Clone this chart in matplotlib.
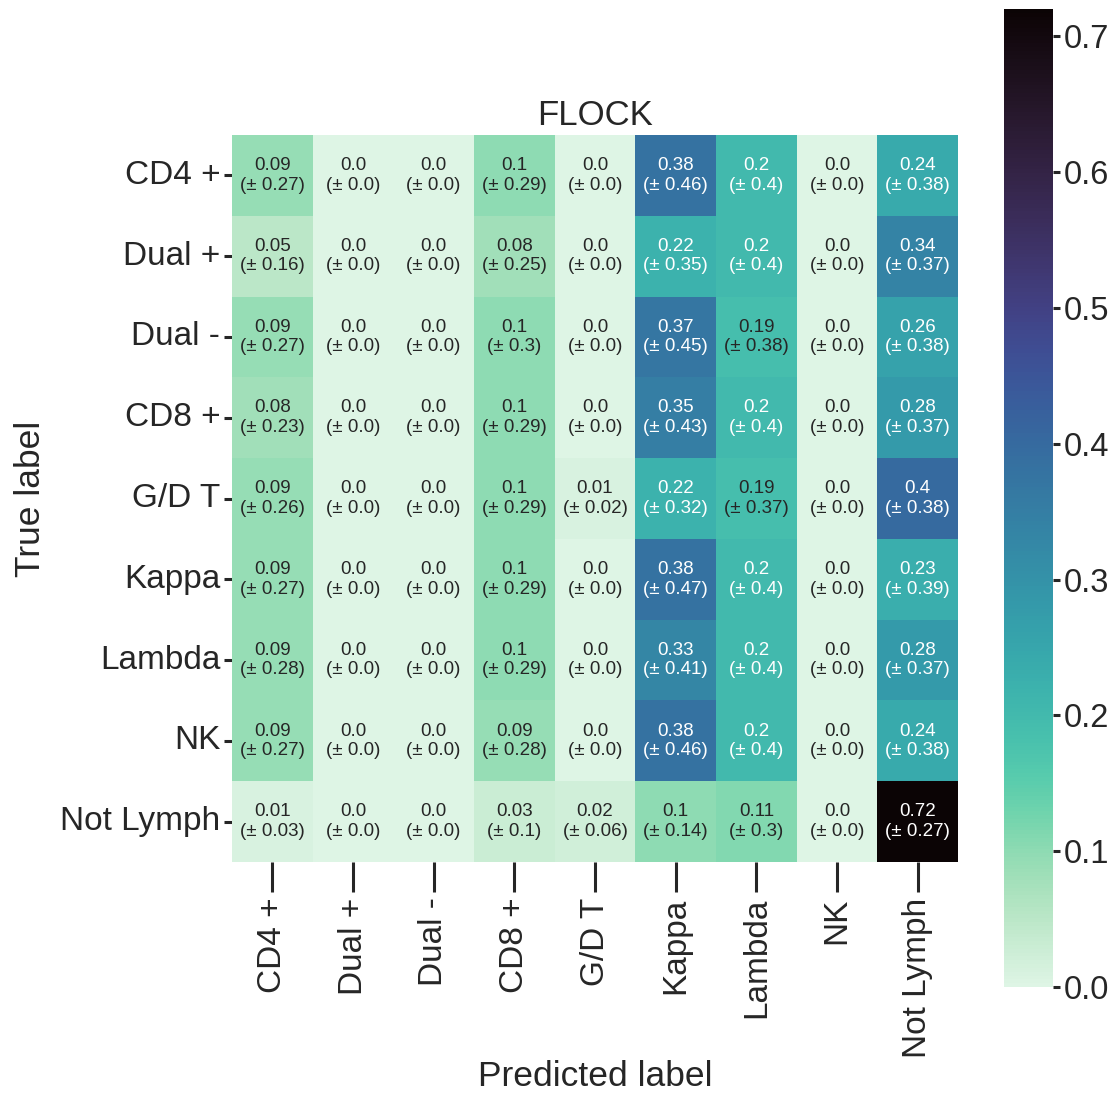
import numpy as np
import matplotlib
matplotlib.use('Agg')
import matplotlib.pyplot as plt
import seaborn as sns

# class names (rows = true label, columns = predicted label)
labels = ['CD4 +', 'Dual +', 'Dual -', 'CD8 +', 'G/D T', 'Kappa', 'Lambda', 'NK', 'Not Lymph']

# mean fraction per cell
mean_vals = [
    [0.09, 0.0, 0.0, 0.1, 0.0, 0.38, 0.2, 0.0, 0.24],
    [0.05, 0.0, 0.0, 0.08, 0.0, 0.22, 0.2, 0.0, 0.34],
    [0.09, 0.0, 0.0, 0.1, 0.0, 0.37, 0.19, 0.0, 0.26],
    [0.08, 0.0, 0.0, 0.1, 0.0, 0.35, 0.2, 0.0, 0.28],
    [0.09, 0.0, 0.0, 0.1, 0.01, 0.22, 0.19, 0.0, 0.4],
    [0.09, 0.0, 0.0, 0.1, 0.0, 0.38, 0.2, 0.0, 0.23],
    [0.09, 0.0, 0.0, 0.1, 0.0, 0.33, 0.2, 0.0, 0.28],
    [0.09, 0.0, 0.0, 0.09, 0.0, 0.38, 0.2, 0.0, 0.24],
    [0.01, 0.0, 0.0, 0.03, 0.02, 0.1, 0.11, 0.0, 0.72],
]

# standard deviation per cell
std_vals = [
    [0.27, 0.0, 0.0, 0.29, 0.0, 0.46, 0.4, 0.0, 0.38],
    [0.16, 0.0, 0.0, 0.25, 0.0, 0.35, 0.4, 0.0, 0.37],
    [0.27, 0.0, 0.0, 0.3, 0.0, 0.45, 0.38, 0.0, 0.38],
    [0.23, 0.0, 0.0, 0.29, 0.0, 0.43, 0.4, 0.0, 0.37],
    [0.26, 0.0, 0.0, 0.29, 0.02, 0.32, 0.37, 0.0, 0.38],
    [0.27, 0.0, 0.0, 0.29, 0.0, 0.47, 0.4, 0.0, 0.39],
    [0.28, 0.0, 0.0, 0.29, 0.0, 0.41, 0.4, 0.0, 0.37],
    [0.27, 0.0, 0.0, 0.28, 0.0, 0.46, 0.4, 0.0, 0.38],
    [0.03, 0.0, 0.0, 0.1, 0.06, 0.14, 0.3, 0.0, 0.27],
]

cbar_ticks = [0.0, 0.1, 0.2, 0.3, 0.4, 0.5, 0.6, 0.7]

sns.set_style('ticks')
plt.rcParams['font.family'] = ['Liberation Sans', 'DejaVu Sans']
text_col = '#262626'

W, H = 1119, 1098
fig = plt.figure(figsize=(W / 100, H / 100), dpi=100)

# heatmap box and colorbar box, in pixels of the figure
ax = fig.add_axes([232 / W, (H - 862) / H, 726 / W, 727 / H])
cax = fig.add_axes([1004 / W, (H - 987) / H, 49 / W, 978 / H])

means = np.array(mean_vals)
stds = np.array(std_vals)

sns.heatmap(means, ax=ax, cbar_ax=cax, cmap='mako_r', vmin=0, vmax=means.max(),
            xticklabels=labels, yticklabels=labels, annot=False,
            cbar_kws={'ticks': cbar_ticks})

# cell annotations: mean and (± std)
for i in range(means.shape[0]):
    for j in range(means.shape[1]):
        m = means[i, j]
        s = stds[i, j]
        c = 'white' if m >= 0.2 else text_col
        ax.text(j + 0.5, i + 0.5, f'{m}\n(± {s})', ha='center', va='center',
                fontsize=13.5, color=c, linespacing=1.2)

ax.set_title('FLOCK', fontsize=25, color=text_col, pad=7)
ax.set_xlabel('Predicted label', fontsize=25.5, color=text_col)
ax.set_ylabel('True label', fontsize=25.5, color=text_col)
ax.xaxis.set_label_coords(0.5, -0.272)
ax.yaxis.set_label_coords(-0.255, 0.5)

ax.set_xticklabels(labels, rotation=90, fontsize=24, color=text_col)
ax.set_yticklabels(labels, rotation=0, fontsize=24, color=text_col)
ax.tick_params(axis='x', length=21.5, width=2.2, color=text_col, pad=4)
ax.tick_params(axis='y', length=5.5, width=2.2, color=text_col, pad=3)

cax.tick_params(length=5, width=2.2, color=text_col, labelsize=23.5, labelcolor=text_col, pad=3)

fig.savefig('out.png', dpi=100)
